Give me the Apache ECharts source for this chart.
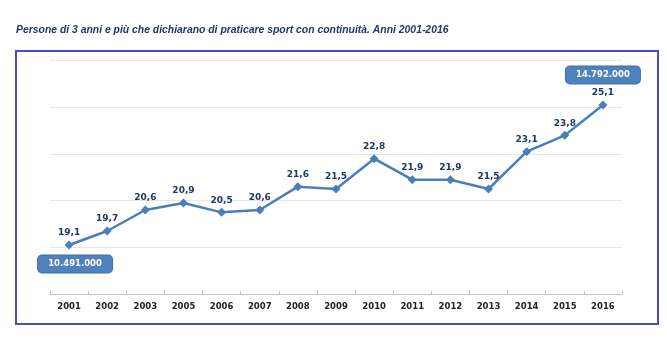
<!DOCTYPE html>
<html>
<head>
<meta charset="utf-8">
<style>
  html, body { margin: 0; padding: 0; background: #ffffff; }
  #chart { width: 667px; height: 340px; }
</style>
<script src="https://cdn.jsdelivr.net/npm/echarts@6/dist/echarts.min.js"></script>
</head>
<body>
<div id="chart"></div>
<script>
// Anni di rilevazione (il 2004 non è presente nella serie)
const years = ['2001', '2002', '2003', '2005', '2006', '2007', '2008', '2009',
               '2010', '2011', '2012', '2013', '2014', '2015', '2016'];
// Quota di persone di 3 anni e più che praticano sport con continuità (%)
const shares = [19.1, 19.7, 20.6, 20.9, 20.5, 20.6, 21.6, 21.5,
                22.8, 21.9, 21.9, 21.5, 23.1, 23.8, 25.1];
// Valori assoluti indicati a inizio e fine periodo
const callouts = [
  { year: '2001', value: 19.1, text: '10.491.000' },
  { year: '2016', value: 25.1, text: '14.792.000' }
];

const navy = '#1F3864';
const lineBlue = '#4A7EBB';
const fmt = v => v.toFixed(1).replace('.', ',');

const chart = echarts.init(document.getElementById('chart'), null, { renderer: 'canvas' });

const calloutLabel = {
  show: true,
  position: 'inside',
  formatter: p => p.name,
  fontFamily: 'DejaVu Sans',
  fontSize: 8.5,
  fontWeight: 'bold',
  color: '#ffffff',
  backgroundColor: '#4F81BD',
  borderColor: '#3F6FA8',
  borderWidth: 1,
  borderRadius: 4,
  width: 54,
  align: 'center',
  padding: [4, 10, 4, 10]
};

chart.setOption({
  animation: false,
  backgroundColor: '#ffffff',
  title: {
    text: 'Persone di 3 anni e più che dichiarano di praticare sport con continuità. Anni 2001-2016',
    left: 11,
    top: 20,
    textStyle: {
      fontFamily: 'Liberation Sans',
      fontSize: 10.4,
      fontStyle: 'italic',
      fontWeight: 'bold',
      color: navy
    }
  },
  graphic: [{
    type: 'rect',
    shape: { x: 16, y: 51, width: 642, height: 273 },
    style: { fill: 'none', stroke: '#4B4BC4', lineWidth: 2 },
    z: 0
  }],
  grid: { left: 50, right: 45, top: 60.7, bottom: 46 },
  xAxis: {
    type: 'category',
    data: years,
    boundaryGap: true,
    axisLine: { lineStyle: { color: '#C4C4C4', width: 1 } },
    axisTick: { show: true, inside: true, length: 3, lineStyle: { color: '#C4C4C4' } },
    axisLabel: {
      margin: 8,
      fontFamily: 'DejaVu Sans',
      fontSize: 8.5,
      fontWeight: 'bold',
      color: '#222222'
    },
    splitLine: { show: false }
  },
  yAxis: {
    type: 'value',
    min: 17,
    max: 27,
    interval: 2,
    axisLine: { show: false },
    axisTick: { show: false },
    axisLabel: { show: false },
    splitLine: { lineStyle: { color: '#E6E6EE', width: 1 } }
  },
  series: [{
    type: 'line',
    data: shares,
    symbol: 'diamond',
    symbolSize: 9,
    lineStyle: { color: lineBlue, width: 2.5 },
    itemStyle: { color: lineBlue },
    label: {
      show: true,
      position: 'top',
      distance: 3,
      formatter: p => fmt(p.value),
      fontFamily: 'DejaVu Sans',
      fontSize: 9,
      fontWeight: 'bold',
      color: navy
    },
    markPoint: {
      symbol: 'rect',
      symbolSize: 1,
      itemStyle: { color: 'rgba(0,0,0,0)' },
      label: calloutLabel,
      data: [
        { name: callouts[0].text, coord: [callouts[0].year, callouts[0].value], symbolOffset: [6, 19] },
        { name: callouts[1].text, coord: [callouts[1].year, callouts[1].value], symbolOffset: [0, -30] }
      ]
    }
  }]
});
</script>
</body>
</html>
